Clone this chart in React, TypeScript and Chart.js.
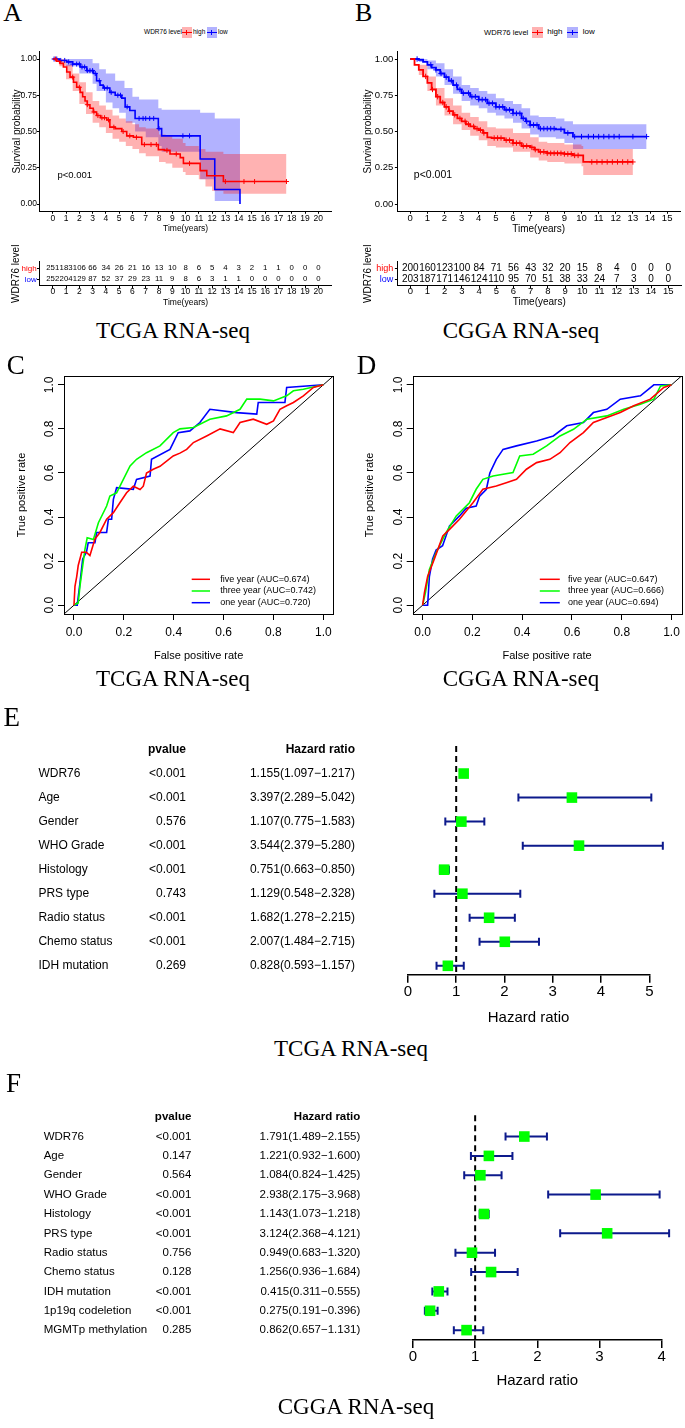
import React, { useEffect, useRef } from 'react';
import { Chart, registerables } from 'chart.js';

Chart.register(...registerables);

const SANS = '"Liberation Sans", Arial, Helvetica, sans-serif';
const SERIF = '"Liberation Serif", "Times New Roman", Times, serif';
Chart.defaults.font.family = SANS;
Chart.defaults.color = '#000';

type Pair = [number, number];

// ================= Panel A : TCGA Kaplan-Meier =================
const tcgaHigh: Pair[] = [[0,1],[0.3,0.985],[0.55,0.97],[0.8,0.945],[1.05,0.91],[1.3,0.875],[1.56,0.84],[1.8,0.805],[2.06,0.77],[2.25,0.74],[2.43,0.71],[2.6,0.685],[2.8,0.66],[3.05,0.635],[3.3,0.61],[3.6,0.595],[4.07,0.58],[4.3,0.53],[4.7,0.52],[5.2,0.5],[5.57,0.47],[6.07,0.46],[6.7,0.41],[7.95,0.375],[8.4,0.37],[8.83,0.345],[9.6,0.32],[9.84,0.28],[11.1,0.23],[11.6,0.195],[12.85,0.155],[17.6,0.155]];
const tcgaHighUpper: Pair[] = [[0,1],[0.5,1],[1,0.96],[1.5,0.9],[2,0.84],[2.5,0.77],[3,0.71],[3.5,0.68],[4,0.65],[4.5,0.61],[5,0.59],[5.5,0.57],[6,0.55],[6.5,0.53],[7,0.52],[8,0.48],[8.5,0.47],[9,0.45],[9.8,0.42],[10,0.4],[11,0.38],[11.5,0.36],[12.85,0.345],[17.6,0.345]];
const tcgaHighLower: Pair[] = [[0,1],[0.5,0.95],[1,0.86],[1.5,0.78],[2,0.69],[2.5,0.62],[3,0.56],[3.5,0.53],[4,0.49],[4.5,0.45],[5,0.43],[5.5,0.4],[6,0.38],[6.5,0.35],[7,0.33],[8,0.29],[8.5,0.28],[9,0.25],[9.8,0.22],[10,0.2],[11,0.17],[11.5,0.12],[12,0.09],[12.85,0.07],[17.6,0.07]];
const tcgaHighCensor: number[] = [0.2,0.5,1.5,2.0,2.6,3.1,3.4,3.7,3.9,4.2,4.6,5.3,5.8,6.3,6.9,7.4,7.8,8.6,9.3,10.3,13.0,14.4,15.2,17.6];
const tcgaLow: Pair[] = [[0,1],[0.5,0.99],[1.05,0.98],[1.5,0.965],[2.06,0.945],[2.56,0.92],[3.06,0.9],[3.3,0.85],[3.56,0.82],[3.8,0.8],[4.3,0.77],[4.7,0.75],[5.2,0.73],[5.45,0.67],[5.8,0.645],[6.2,0.59],[7.95,0.52],[8.2,0.47],[11.1,0.31],[12.2,0.1],[14.1,0]];
const tcgaLowUpper: Pair[] = [[0,1],[2,1],[3,0.97],[3.5,0.93],[4,0.9],[4.7,0.85],[5.4,0.8],[6,0.74],[6.5,0.72],[7.95,0.66],[8.2,0.65],[11.1,0.63],[12.2,0.59],[14.1,0.59]];
const tcgaLowLower: Pair[] = [[0,1],[1,0.95],[2,0.9],[3,0.83],[3.3,0.78],[4,0.7],[4.5,0.66],[5,0.63],[5.5,0.56],[6.2,0.5],[7,0.46],[7.95,0.4],[8.2,0.36],[11.1,0.17],[12.2,0.02],[14.1,0]];
const tcgaLowCensor: number[] = [0.1,0.3,0.6,0.9,1.2,1.5,1.8,2.0,2.2,2.4,2.6,2.8,3.0,3.2,3.5,3.9,4.1,4.4,4.9,5.1,5.6,6.5,6.8,7.0,7.3,7.6,8.0,9.8,10.3];
const tcgaYears = [0,1,2,3,4,5,6,7,8,9,10,11,12,13,14,15,16,17,18,19,20];
const tcgaRiskHigh = [251,183,106,66,34,26,21,16,13,10,8,6,5,4,3,2,1,1,0,0,0];
const tcgaRiskLow = [252,204,129,87,52,37,29,23,11,9,8,6,3,1,1,0,0,0,0,0,0];

// ================= Panel B : CGGA Kaplan-Meier =================
const cggaHigh: Pair[] = [[0,1],[0.25,0.96],[0.5,0.925],[0.75,0.88],[1,0.835],[1.25,0.79],[1.5,0.74],[1.75,0.7],[2,0.67],[2.25,0.64],[2.5,0.615],[2.75,0.59],[3,0.57],[3.25,0.55],[3.5,0.535],[3.75,0.52],[4,0.51],[4.25,0.49],[4.5,0.46],[4.75,0.455],[5.5,0.44],[6,0.42],[6.5,0.4],[7,0.39],[7.25,0.375],[7.5,0.36],[8,0.35],[9,0.345],[9.5,0.335],[10.1,0.29],[13,0.29]];
const cggaHighUpper: Pair[] = [[0,1],[0.5,0.96],[1,0.88],[1.5,0.8],[2,0.73],[2.5,0.68],[3,0.63],[3.5,0.6],[4,0.57],[4.5,0.53],[5,0.52],[6,0.49],[7,0.46],[7.5,0.43],[8,0.42],[9,0.41],[10,0.4],[10.1,0.38],[13,0.38]];
const cggaHighLower: Pair[] = [[0,1],[0.5,0.89],[1,0.78],[1.5,0.68],[2,0.61],[2.5,0.55],[3,0.51],[3.5,0.47],[4,0.44],[4.5,0.4],[5,0.39],[6,0.36],[7,0.32],[7.5,0.3],[8,0.29],[9,0.28],[10,0.26],[10.1,0.2],[13,0.2]];
const cggaHighCensor: number[] = [0.9,1.3,1.6,1.9,2.1,2.3,2.6,2.9,3.2,3.4,3.7,3.9,4.1,4.3,4.9,5.1,5.3,5.6,5.8,6.0,6.2,6.4,6.6,6.8,7.1,7.3,7.6,7.8,8.0,8.2,8.4,8.6,8.8,9.0,9.2,9.4,9.6,9.8,10.6,10.9,11.2,11.5,11.8,12.1,12.4,12.7,13.0];
const cggaLow: Pair[] = [[0,1],[0.5,0.995],[0.75,0.98],[1,0.96],[1.25,0.94],[1.5,0.925],[1.75,0.9],[2,0.875],[2.25,0.85],[2.5,0.82],[2.75,0.79],[3,0.765],[3.5,0.74],[4,0.72],[4.5,0.695],[5,0.67],[5.5,0.65],[6,0.625],[6.5,0.59],[6.75,0.57],[7,0.545],[7.5,0.52],[8.5,0.515],[9,0.49],[9.5,0.465],[13.8,0.465]];
const cggaLowUpper: Pair[] = [[0,1],[0.5,1],[1,0.99],[1.5,0.97],[2,0.93],[2.5,0.88],[3,0.82],[3.5,0.8],[4,0.78],[4.5,0.76],[5,0.73],[5.5,0.71],[6,0.69],[6.5,0.66],[7,0.61],[7.5,0.6],[8.5,0.59],[9,0.57],[9.5,0.55],[13.8,0.55]];
const cggaLowLower: Pair[] = [[0,1],[0.5,0.98],[1,0.93],[1.5,0.88],[2,0.82],[2.5,0.76],[3,0.71],[3.5,0.68],[4,0.66],[4.5,0.63],[5,0.61],[5.5,0.59],[6,0.56],[6.5,0.52],[7,0.48],[7.5,0.46],[8.5,0.45],[9,0.42],[9.5,0.38],[13.8,0.38]];
const cggaLowCensor: number[] = [0.4,1.2,1.5,1.8,2.1,2.4,2.7,2.9,3.1,3.4,3.6,3.8,4.0,4.2,4.4,4.6,4.8,5.0,5.2,5.4,5.6,5.8,6.0,6.2,6.4,6.6,6.8,7.0,7.2,7.4,7.6,7.8,8.0,8.2,8.4,8.8,9.2,9.6,10.0,10.4,10.7,11.0,11.3,11.6,11.9,12.2,13.0,13.8];
const cggaYears = [0,1,2,3,4,5,6,7,8,9,10,11,12,13,14,15];
const cggaRiskHigh = [200,160,123,100,84,71,56,43,32,20,15,8,4,0,0,0];
const cggaRiskLow = [203,187,171,146,124,110,95,70,51,38,33,24,7,3,0,0];

const survTicks = [0, 0.25, 0.5, 0.75, 1];
const groupNames = ['high', 'low'];
const pValueText = 'p<0.001';

// ================= Panels C / D : time-dependent ROC =================
const rocTicks = [0, 0.2, 0.4, 0.6, 0.8, 1];
const rocPeriods = ['five year', 'three year', 'one year'];
const tcgaAUC = [0.674, 0.742, 0.720];
const cggaAUC = [0.647, 0.666, 0.694];
const tcgaRocFive: Pair[] = [[0,0],[0.004,0.086],[0.011,0.13],[0.017,0.18],[0.031,0.24],[0.05,0.24],[0.064,0.225],[0.084,0.3],[0.104,0.33],[0.131,0.39],[0.158,0.42],[0.184,0.465],[0.211,0.51],[0.238,0.54],[0.265,0.525],[0.278,0.54],[0.291,0.6],[0.318,0.617],[0.345,0.63],[0.398,0.677],[0.425,0.69],[0.452,0.707],[0.479,0.738],[0.532,0.768],[0.586,0.8],[0.639,0.783],[0.666,0.829],[0.719,0.844],[0.773,0.821],[0.8,0.836],[0.826,0.889],[0.853,0.905],[0.88,0.92],[0.92,0.95],[0.96,0.988],[1,1]];
const tcgaRocThree: Pair[] = [[0,0],[0.017,0.01],[0.024,0.086],[0.044,0.253],[0.053,0.306],[0.078,0.298],[0.098,0.374],[0.131,0.45],[0.144,0.495],[0.171,0.51],[0.198,0.571],[0.225,0.632],[0.251,0.662],[0.291,0.692],[0.345,0.723],[0.398,0.783],[0.425,0.8],[0.479,0.806],[0.545,0.844],[0.612,0.859],[0.666,0.889],[0.693,0.935],[0.746,0.935],[0.8,0.927],[0.853,0.95],[0.88,0.973],[0.92,0.98],[1,1]];
const tcgaRocOne: Pair[] = [[0,0],[0.013,0],[0.024,0.1],[0.035,0.21],[0.05,0.24],[0.057,0.283],[0.084,0.283],[0.091,0.33],[0.131,0.33],[0.138,0.39],[0.151,0.39],[0.158,0.48],[0.171,0.533],[0.238,0.526],[0.251,0.571],[0.305,0.586],[0.311,0.662],[0.385,0.707],[0.418,0.783],[0.465,0.791],[0.505,0.829],[0.545,0.889],[0.652,0.874],[0.733,0.867],[0.739,0.92],[0.846,0.92],[0.853,0.988],[1,1]];
const cggaRocFive: Pair[] = [[0,0],[0.007,0.056],[0.02,0.13],[0.047,0.21],[0.081,0.314],[0.108,0.344],[0.148,0.39],[0.202,0.465],[0.242,0.526],[0.296,0.541],[0.336,0.556],[0.377,0.571],[0.417,0.617],[0.458,0.647],[0.511,0.662],[0.552,0.692],[0.592,0.738],[0.646,0.783],[0.686,0.829],[0.74,0.852],[0.794,0.874],[0.848,0.905],[0.915,0.935],[0.969,0.988],[1,1]];
const cggaRocThree: Pair[] = [[0,0],[0.011,0.056],[0.027,0.162],[0.054,0.238],[0.094,0.329],[0.135,0.405],[0.188,0.465],[0.215,0.526],[0.242,0.571],[0.283,0.586],[0.363,0.602],[0.39,0.677],[0.444,0.685],[0.498,0.723],[0.552,0.768],[0.606,0.798],[0.66,0.844],[0.74,0.859],[0.808,0.889],[0.875,0.912],[0.929,0.935],[0.956,0.995],[1,1]];
const cggaRocOne: Pair[] = [[0,0],[0.02,0],[0.027,0.13],[0.04,0.21],[0.054,0.25],[0.08,0.27],[0.108,0.36],[0.148,0.405],[0.175,0.44],[0.215,0.45],[0.229,0.495],[0.256,0.526],[0.27,0.6],[0.296,0.662],[0.323,0.707],[0.377,0.723],[0.458,0.745],[0.525,0.768],[0.579,0.814],[0.646,0.829],[0.686,0.874],[0.74,0.889],[0.794,0.935],[0.875,0.95],[0.929,1],[1,1]];

// ================= Panel E : TCGA Cox forest =================
const tcgaVars = ['WDR76','Age','Gender','WHO Grade','Histology','PRS type','Radio status','Chemo status','IDH mutation'];
const tcgaP = ['<0.001','<0.001','0.576','<0.001','<0.001','0.743','<0.001','<0.001','0.269'];
const tcgaHR = [1.155,3.397,1.107,3.544,0.751,1.129,1.682,2.007,0.828];
const tcgaLo = [1.097,2.289,0.775,2.379,0.663,0.548,1.278,1.484,0.593];
const tcgaHi = [1.217,5.042,1.583,5.280,0.850,2.328,2.215,2.715,1.157];
const tcgaHRTicks = [0,1,2,3,4,5];

// ================= Panel F : CGGA Cox forest =================
const cggaVars = ['WDR76','Age','Gender','WHO Grade','Histology','PRS type','Radio status','Chemo status','IDH mutation','1p19q codeletion','MGMTp methylation'];
const cggaP = ['<0.001','0.147','0.564','<0.001','<0.001','<0.001','0.756','0.128','<0.001','<0.001','0.285'];
const cggaHR = [1.791,1.221,1.084,2.938,1.143,3.124,0.949,1.256,0.415,0.275,0.862];
const cggaLo = [1.489,0.932,0.824,2.175,1.073,2.368,0.683,0.936,0.311,0.191,0.657];
const cggaHi = [2.155,1.600,1.425,3.968,1.218,4.121,1.320,1.684,0.555,0.396,1.131];
const cggaHRTicks = [0,1,2,3,4];

// ================= styling =================
const RED = '#ff0000';
const BLUE = '#0000ff';
const GREEN = '#00ff00';
const RED_BAND = 'rgba(255,0,0,0.3)';
const BLUE_BAND = 'rgba(0,0,255,0.3)';
const NAVY = '#0d1a8c';

// ================= helpers =================
const xy = (arr: Pair[]) => arr.map(([x, y]) => ({ x, y }));
const stepAt = (curve: Pair[], t: number) => {
  let s = curve[0][1];
  for (const [x, y] of curve) { if (x <= t) s = y; else break; }
  return s;
};
const fixedTicks = (vals: number[]) => (scale: any) => { scale.ticks = vals.map((v) => ({ value: v })); };
const fixW = (w: number) => (s: any) => { s.width = w; };
const fixH = (h: number) => (s: any) => { s.height = h; };
const baseOpts = { animation: false, responsive: false, devicePixelRatio: 1, events: [] as any[] };
const noPlugins = { legend: { display: false }, tooltip: { enabled: false } };

function ChartBox({ left, top, width, height, make }: any) {
  const ref = useRef<HTMLCanvasElement | null>(null);
  useEffect(() => {
    const chart = new Chart(ref.current as HTMLCanvasElement, make());
    return () => chart.destroy();
  }, []);
  return <canvas ref={ref} width={width} height={height} style={{ position: 'absolute', left, top, width, height }} />;
}

// ---------- Kaplan-Meier ----------
function kmConfig(o: any): any {
  const band = (up: Pair[], lo: Pair[], color: string) => [
    { data: xy(up), stepped: true, borderWidth: 0, borderColor: 'rgba(0,0,0,0)', pointRadius: 0, fill: false },
    { data: xy(lo), stepped: true, borderWidth: 0, borderColor: 'rgba(0,0,0,0)', pointRadius: 0, fill: '-1', backgroundColor: color },
  ];
  const cens = (curve: Pair[], ts: number[], color: string) => ({
    data: ts.map((t) => ({ x: t, y: stepAt(curve, t) })), showLine: false, pointStyle: 'cross',
    pointRadius: o.cr, borderColor: color, borderWidth: 1, fill: false,
  });
  const pPlugin = {
    id: 'pval',
    afterDatasetsDraw(chart: any) {
      const { ctx, scales } = chart;
      ctx.save();
      ctx.font = `${o.pFont}px ${SANS}`;
      ctx.fillStyle = '#000'; ctx.textAlign = 'left'; ctx.textBaseline = 'middle';
      ctx.fillText(pValueText, scales.x.getPixelForValue(o.pX), scales.y.getPixelForValue(o.pY));
      ctx.restore();
    },
  };
  return {
    type: 'line',
    data: {
      datasets: [
        { data: xy(o.high), stepped: true, borderColor: RED, borderWidth: o.lw, pointRadius: 0, fill: false },
        { data: xy(o.low), stepped: true, borderColor: BLUE, borderWidth: o.lw, pointRadius: 0, fill: false },
        cens(o.high, o.highCens, RED),
        cens(o.low, o.lowCens, BLUE),
        ...band(o.highUp, o.highLo, RED_BAND),
        ...band(o.lowUp, o.lowLo, BLUE_BAND),
      ],
    },
    options: {
      ...baseOpts,
      layout: { padding: { left: 0, top: o.padTop, right: o.padRight, bottom: 0 } },
      plugins: noPlugins,
      scales: {
        x: {
          type: 'linear', min: o.xMin, max: o.xMax, afterBuildTicks: fixedTicks(o.years), afterFit: fixH(o.xH),
          ticks: { autoSkip: false, maxRotation: 0, font: { size: o.tickFont }, color: '#000', padding: o.xTickPad },
          grid: { drawOnChartArea: false, tickLength: 2.5, color: '#000' },
          border: { display: true, color: '#000', width: 1 },
          title: { display: true, text: 'Time(years)', font: { size: o.xTitleFont }, color: '#000', padding: { top: 0, bottom: o.xTitlePad } },
        },
        y: {
          type: 'linear', min: -0.05, max: 1.05, afterBuildTicks: fixedTicks(survTicks), afterFit: fixW(o.yW),
          ticks: { font: { size: o.tickFont }, color: '#000', padding: o.yTickPad, callback: (v: any) => Number(v).toFixed(2) },
          grid: { drawOnChartArea: false, tickLength: 2.5, color: '#000' },
          border: { display: true, color: '#000', width: 1 },
          title: { display: true, text: 'Survival probability', font: { size: 10 }, color: '#000', padding: { top: o.yTitlePad, bottom: 0 } },
        },
      },
    },
    plugins: [pPlugin],
  };
}

function riskConfig(o: any): any {
  const numPlugin = {
    id: 'risknum',
    afterDatasetsDraw(chart: any) {
      const { ctx } = chart;
      ctx.save();
      ctx.font = `${o.numFont}px ${SANS}`;
      ctx.fillStyle = '#000'; ctx.textAlign = 'center'; ctx.textBaseline = 'middle';
      chart.data.datasets.forEach((ds: any, di: number) => {
        chart.getDatasetMeta(di).data.forEach((el: any, i: number) => ctx.fillText(String(ds.data[i].n), el.x, el.y));
      });
      ctx.restore();
    },
  };
  return {
    type: 'scatter',
    data: {
      datasets: [
        { data: o.riskHigh.map((n: number, i: number) => ({ x: o.years[i], y: 2, n })), pointRadius: 0 },
        { data: o.riskLow.map((n: number, i: number) => ({ x: o.years[i], y: 1, n })), pointRadius: 0 },
      ],
    },
    options: {
      ...baseOpts,
      layout: { padding: { left: 0, top: o.padTop, right: o.padRight, bottom: 0 } },
      plugins: noPlugins,
      scales: {
        x: {
          type: 'linear', min: o.xMin, max: o.xMax, afterBuildTicks: fixedTicks(o.years), afterFit: fixH(o.xH),
          ticks: { autoSkip: false, maxRotation: 0, font: { size: o.tickFont }, color: '#000', padding: o.xTickPad },
          grid: { drawOnChartArea: false, tickLength: 2.5, color: '#000' },
          border: { display: true, color: '#000', width: 1 },
          title: { display: true, text: 'Time(years)', font: { size: o.xTitleFont }, color: '#000', padding: { top: 0, bottom: o.xTitlePad } },
        },
        y: {
          type: 'linear', min: 0.4, max: 2.6, afterBuildTicks: fixedTicks([1, 2]), afterFit: fixW(o.yW),
          ticks: {
            font: { size: o.yTickFont }, padding: o.yTickPad,
            callback: (v: any) => (v === 2 ? groupNames[0] : groupNames[1]),
            color: (c: any) => (c.tick && c.tick.value === 2 ? RED : BLUE),
          },
          grid: { drawOnChartArea: false, tickLength: 2.5, color: '#000' },
          border: { display: true, color: '#000', width: 1 },
          title: { display: true, text: 'WDR76 level', font: { size: 10 }, color: '#000', padding: { top: o.yTitlePad, bottom: 0 } },
        },
      },
    },
    plugins: [numPlugin],
  };
}

// ---------- ROC ----------
function rocConfig(o: any): any {
  const boxPlugin = {
    id: 'box',
    afterDatasetsDraw(chart: any) {
      const { ctx, chartArea: a } = chart;
      ctx.save(); ctx.strokeStyle = '#000'; ctx.lineWidth = 1;
      ctx.strokeRect(Math.round(a.left) + 0.5, Math.round(a.top) + 0.5, Math.round(a.right - a.left), Math.round(a.bottom - a.top));
      ctx.restore();
    },
  };
  const legendPlugin = {
    id: 'rocLegend',
    afterDraw(chart: any) {
      const { ctx, chartArea: a } = chart;
      ctx.save();
      ctx.font = `9px ${SANS}`; ctx.textBaseline = 'middle'; ctx.textAlign = 'left';
      [34.7, 23, 11.3].forEach((dy, i) => {
        const ds = chart.data.datasets[i];
        const y = a.bottom - dy;
        ctx.strokeStyle = ds.borderColor; ctx.lineWidth = 1.5;
        ctx.beginPath(); ctx.moveTo(a.right - o.legLine[0], y); ctx.lineTo(a.right - o.legLine[1], y); ctx.stroke();
        ctx.fillStyle = '#000'; ctx.fillText(ds.label, a.right - o.legText, y);
      });
      ctx.restore();
    },
  };
  const colors = [RED, GREEN, BLUE];
  return {
    type: 'line',
    data: {
      datasets: [
        ...o.curves.map((c: Pair[], i: number) => ({
          label: `${rocPeriods[i]} (AUC=${o.auc[i].toFixed(3)})`, data: xy(c), borderColor: colors[i],
          borderWidth: 1.6, pointRadius: 0, fill: false, tension: 0,
        })),
        { label: 'reference', data: [{ x: -0.04, y: -0.04 }, { x: 1.04, y: 1.04 }], borderColor: '#000', borderWidth: 1, pointRadius: 0, fill: false },
      ],
    },
    options: {
      ...baseOpts,
      layout: { padding: { left: 0, top: o.padTop, right: o.padRight, bottom: 0 } },
      plugins: noPlugins,
      scales: {
        x: {
          type: 'linear', min: -0.04, max: 1.04, afterBuildTicks: fixedTicks(rocTicks), afterFit: fixH(o.xH),
          ticks: { autoSkip: false, maxRotation: 0, font: { size: 12 }, color: '#000', padding: 5, callback: (v: any) => Number(v).toFixed(1) },
          grid: { drawOnChartArea: false, tickLength: 6, color: '#000' },
          border: { display: false },
          title: { display: true, text: 'False positive rate', font: { size: 11 }, color: '#000', padding: { top: 0, bottom: 7.4 } },
        },
        y: {
          type: 'linear', min: -0.04, max: 1.04, afterBuildTicks: fixedTicks(rocTicks), afterFit: fixW(o.yW),
          ticks: { font: { size: 12 }, color: '#000', padding: 0, minRotation: 90, maxRotation: 90, crossAlign: 'center', callback: (v: any) => Number(v).toFixed(1) },
          grid: { drawOnChartArea: false, tickLength: 6, color: '#000' },
          border: { display: false },
          title: { display: true, text: 'True positive rate', font: { size: 11 }, color: '#000', padding: { top: o.yTitlePad, bottom: 0 } },
        },
      },
    },
    plugins: [boxPlugin, legendPlugin],
  };
}

// ---------- Forest ----------
function forestConfig(o: any): any {
  const plugin = {
    id: 'forest',
    beforeDatasetsDraw(chart: any) {
      const { ctx, scales: { x, y }, chartArea } = chart;
      ctx.save();
      const x1 = x.getPixelForValue(1);
      ctx.strokeStyle = '#000'; ctx.lineWidth = 2; ctx.setLineDash([6, 4]);
      ctx.beginPath(); ctx.moveTo(x1, y.getPixelForValue(o.dashTop)); ctx.lineTo(x1, chartArea.bottom); ctx.stroke();
      ctx.setLineDash([]);
      ctx.strokeStyle = NAVY; ctx.lineWidth = 2;
      o.lo.forEach((lo: number, i: number) => {
        const yy = y.getPixelForValue(i);
        const a = x.getPixelForValue(lo);
        const b = x.getPixelForValue(o.hi[i]);
        ctx.beginPath();
        ctx.moveTo(a, yy); ctx.lineTo(b, yy);
        ctx.moveTo(a, yy - 4); ctx.lineTo(a, yy + 4);
        ctx.moveTo(b, yy - 4); ctx.lineTo(b, yy + 4);
        ctx.stroke();
      });
      ctx.fillStyle = '#000'; ctx.textBaseline = 'middle';
      const yh = y.getPixelForValue(-1);
      ctx.font = `bold ${o.font}px ${SANS}`; ctx.textAlign = 'right';
      ctx.fillText('pvalue', o.colP, yh);
      ctx.fillText('Hazard ratio', o.colHR, yh);
      ctx.font = `${o.font}px ${SANS}`;
      o.labels.forEach((lab: string, i: number) => {
        const yy = y.getPixelForValue(i);
        ctx.textAlign = 'left'; ctx.fillText(lab, o.colLabel, yy);
        ctx.textAlign = 'right';
        ctx.fillText(o.p[i], o.colP, yy);
        ctx.fillText(`${o.hr[i].toFixed(3)}(${o.lo[i].toFixed(3)}\u2212${o.hi[i].toFixed(3)})`, o.colHR, yy);
      });
      ctx.restore();
    },
  };
  return {
    type: 'scatter',
    data: {
      datasets: [{
        data: o.hr.map((v: number, i: number) => ({ x: v, y: i })), pointStyle: 'rect', pointRadius: 7.5,
        backgroundColor: GREEN, borderWidth: 0, clip: false,
      }],
    },
    options: {
      ...baseOpts,
      layout: { padding: { left: o.padLeft, top: o.padTop, right: o.padRight, bottom: 0 } },
      plugins: noPlugins,
      scales: {
        x: {
          type: 'linear', min: 0, max: o.ticks[o.ticks.length - 1], afterBuildTicks: fixedTicks(o.ticks), afterFit: fixH(o.xH),
          ticks: { autoSkip: false, maxRotation: 0, font: { size: 15 }, color: '#000', padding: 0 },
          grid: { drawOnChartArea: false, tickLength: 8, color: '#000', lineWidth: 1.5 },
          border: { display: true, color: '#000', width: 1.5 },
          title: { display: true, text: 'Hazard ratio', font: { size: 15 }, color: '#000', padding: { top: 0, bottom: o.titlePad } },
        },
        y: { type: 'linear', min: -1.5, max: o.yMax, reverse: true, display: false },
      },
    },
    plugins: [plugin],
  };
}

// ---------- HTML text ----------
function Txt({ x, b, s, t, align = 'left', serif = false, bold = false }: any) {
  const asc = serif ? 0.8375 : 0.8465;
  const style: any = {
    position: 'absolute', top: b - asc * s, fontSize: s, lineHeight: `${s}px`, whiteSpace: 'nowrap',
    fontFamily: serif ? SERIF : SANS, fontWeight: bold ? 'bold' : 'normal', color: '#000',
  };
  if (align === 'center') { style.left = x; style.transform = 'translateX(-50%)'; } else style.left = x;
  return <div style={style}>{t}</div>;
}

function Key({ left, top, w, h, band, line }: any) {
  return (
    <div style={{ position: 'absolute', left, top, width: w, height: h, background: band }}>
      <div style={{ position: 'absolute', left: 0, width: w, top: h / 2 - 0.75, height: 1.5, background: line }} />
      <div style={{ position: 'absolute', left: w / 2 - 0.5, top: h / 2 - 2.5, width: 1, height: 5, background: line }} />
    </div>
  );
}

const kmA = {
  high: tcgaHigh, highUp: tcgaHighUpper, highLo: tcgaHighLower, highCens: tcgaHighCensor,
  low: tcgaLow, lowUp: tcgaLowUpper, lowLo: tcgaLowLower, lowCens: tcgaLowCensor,
  years: tcgaYears, xMin: -1, xMax: 21, yW: 39.5, xH: 28.75, padTop: 11.75, padRight: 8.4,
  tickFont: 8.5, xTitleFont: 8.5, xTickPad: -0.5, xTitlePad: 5.9, yTickPad: 0, yTitlePad: 11.3,
  lw: 1.6, cr: 2.5, pX: 0.35, pY: 0.2, pFont: 9.5,
};
const kmB = {
  high: cggaHigh, highUp: cggaHighUpper, highLo: cggaHighLower, highCens: cggaHighCensor,
  low: cggaLow, lowUp: cggaLowUpper, lowLo: cggaLowLower, lowCens: cggaLowCensor,
  years: cggaYears, xMin: -0.75, xMax: 15.75, yW: 57.4, xH: 28.75, padTop: 11.75, padRight: 3.8,
  tickFont: 9.5, xTitleFont: 10, xTickPad: -1, xTitlePad: 5, yTickPad: 1.6, yTitlePad: 22.3,
  lw: 1.8, cr: 2.7, pX: 0.21, pY: 0.2, pFont: 10.5,
};
const riskA = {
  riskHigh: tcgaRiskHigh, riskLow: tcgaRiskLow, years: tcgaYears, xMin: -1, xMax: 21, yW: 39.5, xH: 24.1,
  padTop: 16.7, padRight: 8.4, tickFont: 8.5, xTitleFont: 8.5, xTickPad: -1.8, xTitlePad: 1.9,
  yTickFont: 8, yTickPad: 0.3, yTitlePad: 10.7, numFont: 7.8,
};
const riskB = {
  riskHigh: cggaRiskHigh, riskLow: cggaRiskLow, years: cggaYears, xMin: -0.75, xMax: 15.75, yW: 57.4, xH: 24.1,
  padTop: 16.7, padRight: 3.8, tickFont: 9.5, xTitleFont: 10, xTickPad: -2.4, xTitlePad: 2,
  yTickFont: 9, yTickPad: 1.6, yTitlePad: 22.3, numFont: 10,
};
const rocC = { curves: [tcgaRocFive, tcgaRocThree, tcgaRocOne], auc: tcgaAUC, padTop: 21, padRight: 6.7, yW: 64, xH: 56, yTitlePad: 15.1, legLine: [141.6, 123.3], legText: 113 };
const rocD = { curves: [cggaRocFive, cggaRocThree, cggaRocOne], auc: cggaAUC, padTop: 21, padRight: 3.3, yW: 72.7, xH: 56, yTitlePad: 23.4, legLine: [141.7, 121.7], legText: 113.4 };
const forestE = {
  labels: tcgaVars, p: tcgaP, hr: tcgaHR, lo: tcgaLo, hi: tcgaHi, ticks: tcgaHRTicks,
  padLeft: 407.9, padRight: 35.7, padTop: 1.8, xH: 55.3, yMax: 8.37, titlePad: 3.3, dashTop: -1.15,
  font: 12, colLabel: 38.4, colP: 186, colHR: 355,
};
const forestF = {
  labels: cggaVars, p: cggaP, hr: cggaHR, lo: cggaLo, hi: cggaHi, ticks: cggaHRTicks,
  padLeft: 413, padRight: 23.4, padTop: 5.75, xH: 55, yMax: 10.51, titlePad: 5, dashTop: -1.1,
  font: 11.5, colLabel: 43.7, colP: 191.3, colHR: 360.3,
};

export default function App() {
  return (
    <div style={{ position: 'absolute', left: 0, top: 0, width: 685, height: 1428, background: '#fff', overflow: 'hidden' }}>
      <ChartBox left={0} top={40} width={340} height={200} make={() => kmConfig(kmA)} />
      <ChartBox left={340} top={40} width={345} height={200} make={() => kmConfig(kmB)} />
      <ChartBox left={0} top={245} width={340} height={65} make={() => riskConfig(riskA)} />
      <ChartBox left={340} top={245} width={345} height={65} make={() => riskConfig(riskB)} />
      <ChartBox left={0} top={355} width={340} height={315} make={() => rocConfig(rocC)} />
      <ChartBox left={340} top={355} width={345} height={315} make={() => rocConfig(rocD)} />
      <ChartBox left={0} top={730} width={685} height={300} make={() => forestConfig(forestE)} />
      <ChartBox left={0} top={1100} width={685} height={295} make={() => forestConfig(forestF)} />

      {/* KM legends */}
      <Txt x={144} b={34.6} s={6.5} t="WDR76 level" />
      <Key left={181.7} top={27} w={10} h={11} band={RED_BAND} line={RED} />
      <Txt x={193} b={34.6} s={6.5} t={groupNames[0]} />
      <Key left={206.7} top={27} w={10} h={11} band={BLUE_BAND} line={BLUE} />
      <Txt x={218} b={34.6} s={6.5} t={groupNames[1]} />

      <Txt x={484} b={35} s={7.6} t="WDR76 level" />
      <Key left={531.7} top={26.5} w={11.6} h={11.5} band={RED_BAND} line={RED} />
      <Txt x={547.3} b={35} s={8} t={groupNames[0]} />
      <Key left={566.7} top={26.5} w={11.6} h={11.5} band={BLUE_BAND} line={BLUE} />
      <Txt x={582.7} b={35} s={8} t={groupNames[1]} />

      {/* panel letters & captions */}
      <Txt x={3.3} b={21.7} s={26} t="A" serif />
      <Txt x={355} b={21.7} s={26} t="B" serif />
      <Txt x={173} b={338} s={23} t="TCGA RNA-seq" serif align="center" />
      <Txt x={521} b={338} s={23} t="CGGA RNA-seq" serif align="center" />
      <Txt x={6.7} b={375} s={27} t="C" serif />
      <Txt x={356.7} b={375} s={27} t="D" serif />
      <Txt x={173} b={686.7} s={23} t="TCGA RNA-seq" serif align="center" />
      <Txt x={521} b={686.7} s={23} t="CGGA RNA-seq" serif align="center" />
      <Txt x={3.5} b={727} s={27} t="E" serif />
      <Txt x={351} b={1056} s={23} t="TCGA RNA-seq" serif align="center" />
      <Txt x={6} b={1093} s={27} t="F" serif />
      <Txt x={356} b={1414} s={23} t="CGGA RNA-seq" serif align="center" />
    </div>
  );
}
